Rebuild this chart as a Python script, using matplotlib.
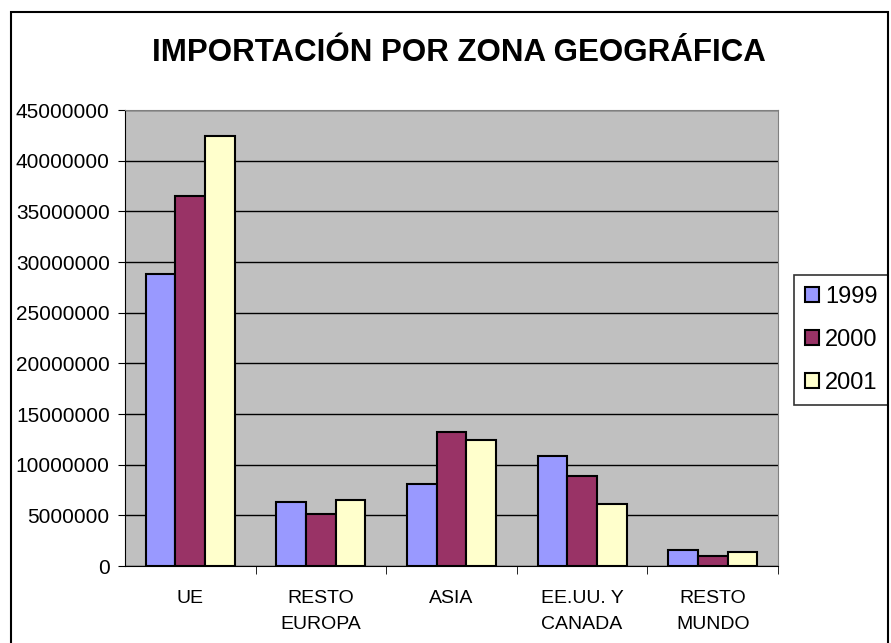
import matplotlib.pyplot as plt
import matplotlib.patches as mpatches
import numpy as np

plt.rcParams['font.family'] = ['Liberation Sans', 'DejaVu Sans']

categories = ["UE", "RESTO\nEUROPA", "ASIA", "EE.UU. Y\nCANADA", "RESTO\nMUNDO"]
years = ["1999", "2000", "2001"]
v1999 = [28800000, 6350000, 8100000, 10850000, 1580000]
v2000 = [36500000, 5150000, 13200000, 8900000, 1000000]
v2001 = [42400000, 6500000, 12400000, 6100000, 1380000]
colors = ["#9999FF", "#993366", "#FFFFCC"]

fig = plt.figure(figsize=(8.91, 6.43), dpi=100)
ax = fig.add_axes([125 / 891, 77 / 643, 653 / 891, 456 / 643])
ax.set_facecolor("#C0C0C0")

# outer chart frame
fig.patches.append(mpatches.Rectangle((11 / 891, -0.05), 877 / 891, 1.05 - 12 / 643,
                                      transform=fig.transFigure, fill=False,
                                      edgecolor="black", linewidth=1.5))

x = np.arange(len(categories))
w = 0.227
for i, (vals, c) in enumerate(zip([v1999, v2000, v2001], colors)):
    ax.bar(x + (i - 1) * w, vals, width=w, color=c, edgecolor="black",
           linewidth=1.5, label=years[i], zorder=3)

ax.set_xlim(-0.5, len(categories) - 0.5)
ax.set_ylim(0, 45000000)
ax.set_yticks(np.arange(0, 45000001, 5000000))
ax.set_yticklabels([str(v) for v in range(0, 45000001, 5000000)], fontsize=15)
ax.yaxis.grid(True, color="black", linewidth=1, zorder=1)
ax.set_axisbelow(True)

ax.set_xticks(x)
ax.set_xticklabels(categories, fontsize=14, linespacing=1.7)
ax.tick_params(axis="x", length=0, pad=17)
ax.set_xticks(np.arange(0.5, len(categories) - 0.5 + 0.01, 1), minor=True)
ax.tick_params(axis="x", which="minor", length=6, direction="out", color="black")
ax.tick_params(axis="y", length=5, direction="out", pad=6)

for s in ["top", "right"]:
    ax.spines[s].set_color("#808080")
ax.spines["left"].set_color("black")
ax.spines["bottom"].set_color("black")

fig.text(459 / 891, 1 - 53 / 643, "IMPORTACIÓN POR ZONA GEOGRÁFICA",
         ha="center", va="center", fontsize=22.5, fontweight="bold")

leg = ax.legend(loc="center right", bbox_to_anchor=(888 / 891, 1 - 340 / 643),
                bbox_transform=fig.transFigure, fontsize=17, frameon=True,
                fancybox=False, edgecolor="black", handlelength=0.6,
                handleheight=0.6, handletextpad=0.25, labelspacing=0.9,
                borderpad=0.45, borderaxespad=0)
leg.get_frame().set_linewidth(1.2)

fig.savefig("out.png", dpi=100)
